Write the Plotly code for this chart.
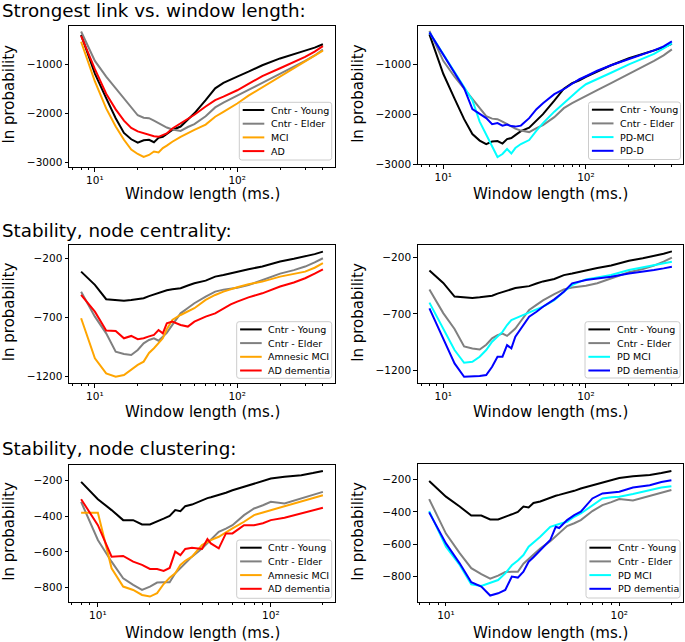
import plotly.graph_objects as go

# ---------------- data ----------------
# window lengths (ms.)
win_top = [8, 10, 12, 14, 16, 18, 20, 22, 24, 26, 28, 30, 32, 35, 40, 45, 50, 60, 70, 80, 90, 100, 120, 150, 200, 250, 300, 350, 400]
win_bot = [8, 10, 12, 14, 16, 18, 20, 22, 24, 26, 28, 30, 32, 35, 40, 43, 45, 50, 55, 60, 70, 80, 90, 100, 120, 150, 175, 200]

# Strongest link
link_young = [-400, -1190, -1690, -2100, -2400, -2530, -2600, -2550, -2540, -2590, -2500, -2480, -2420, -2340, -2270, -2130, -2000, -1730, -1490, -1380, -1320, -1250, -1150, -1020, -880, -800, -720, -660, -590]
link_elder = [-330, -930, -1250, -1490, -1690, -1870, -2040, -2090, -2100, -2150, -2200, -2240, -2290, -2330, -2360, -2280, -2220, -2060, -1880, -1780, -1700, -1640, -1520, -1380, -1200, -1050, -930, -820, -700]
link_mci = [-540, -1350, -1900, -2270, -2540, -2740, -2830, -2890, -2850, -2780, -2800, -2710, -2660, -2580, -2480, -2400, -2340, -2230, -2070, -1970, -1880, -1800, -1640, -1470, -1260, -1090, -950, -830, -720]
link_ad = [-420, -1100, -1600, -1920, -2150, -2300, -2370, -2410, -2450, -2470, -2480, -2440, -2410, -2310, -2200, -2110, -2030, -1860, -1730, -1660, -1590, -1530, -1400, -1240, -1080, -960, -850, -740, -630]
link_pdmci = [-360, -800, -1160, -1460, -1720, -2150, -2420, -2650, -2860, -2800, -2700, -2790, -2680, -2600, -2520, -2330, -2180, -1950, -1780, -1620, -1500, -1400, -1300, -1170, -1000, -880, -790, -680, -580]
link_pdd = [-360, -800, -1160, -1480, -1900, -2000, -2080, -2200, -2180, -2230, -2210, -2240, -2250, -2230, -2080, -1900, -1780, -1600, -1500, -1390, -1300, -1240, -1130, -1020, -900, -800, -720, -640, -540]

# Stability, node centrality
cent_young = [-313, -425, -546, -552, -558, -552, -546, -538, -520, -505, -495, -482, -470, -462, -453, -430, -411, -389, -355, -341, -325, -313, -292, -270, -228, -205, -186, -165, -144]
cent_elder = [-482, -693, -834, -989, -1008, -1017, -975, -918, -890, -876, -896, -862, -830, -763, -665, -620, -580, -524, -482, -465, -455, -450, -427, -383, -330, -300, -270, -235, -200]
cent_mci = [-707, -1045, -1172, -1200, -1186, -1138, -1101, -1073, -1000, -960, -918, -876, -800, -721, -679, -650, -622, -552, -510, -482, -462, -445, -420, -397, -355, -335, -313, -280, -242]
cent_ad = [-510, -651, -811, -814, -876, -856, -884, -876, -860, -848, -806, -834, -749, -735, -763, -777, -735, -693, -665, -622, -590, -566, -530, -496, -439, -405, -369, -330, -293]
cent_pdmci = [-600, -829, -1022, -1135, -1126, -1081, -1022, -948, -900, -860, -799, -755, -740, -719, -681, -660, -636, -577, -503, -443, -415, -393, -375, -354, -310, -285, -265, -250, -236]
cent_pdd = [-651, -918, -1141, -1259, -1259, -1253, -1244, -1170, -1081, -1081, -978, -1007, -903, -829, -725, -681, -636, -571, -503, -428, -410, -399, -385, -369, -340, -325, -310, -295, -280]

# Stability, node clustering
clus_young = [-209, -306, -367, -423, -423, -447, -447, -432, -415, -400, -367, -373, -345, -336, -311, -300, -295, -284, -270, -256, -237, -219, -205, -191, -180, -172, -160, -148]
clus_elder = [-321, -534, -655, -748, -785, -813, -794, -772, -770, -770, -720, -692, -660, -627, -581, -550, -534, -488, -470, -451, -395, -358, -340, -321, -330, -302, -285, -265]
clus_mci = [-382, -382, -692, -794, -813, -841, -850, -831, -780, -745, -720, -673, -650, -627, -562, -545, -535, -516, -490, -469, -432, -395, -380, -367, -345, -321, -300, -284]
clus_ad = [-306, -451, -627, -623, -655, -673, -696, -696, -707, -690, -599, -618, -584, -577, -584, -529, -553, -581, -497, -497, -451, -451, -440, -423, -410, -386, -370, -354]
clus_pdmci = [-395, -615, -728, -847, -858, -841, -821, -780, -730, -700, -667, -615, -590, -554, -492, -480, -475, -461, -430, -410, -358, -317, -310, -307, -290, -266, -250, -241]
clus_pdd = [-403, -595, -718, -835, -862, -917, -903, -882, -800, -806, -769, -708, -680, -636, -574, -492, -500, -451, -420, -399, -317, -286, -280, -276, -250, -235, -215, -204]

section_titles = ["Strongest link vs. window length:", "Stability, node centrality:", "Stability, node clustering:"]
x_title = "Window length (ms.)"
y_title = "ln probability"
yticks_top = [-1000, -2000, -3000]
yticks_mid = [-200, -700, -1200]
yticks_bot = [-200, -400, -600, -800]
xtick_vals = [10, 100]
xtick_text = ["10\u00b9", "10\u00b2"]

# ---------------- figure ----------------
W, H = 685, 642
FONT = "DejaVu Sans"
C_YOUNG, C_ELDER, C_ORANGE, C_RED, C_CYAN, C_BLUE = "#000000", "#808080", "#FFA500", "#FF0000", "#00FFFF", "#0000FF"


def py(p):
    return 1 - p / H


def px(p):
    return p / W


# panel geometry in pixels: axes box (left, right, top, bottom), legend box, x-title centre y
panels = [
    dict(box=(69, 335, 26, 167), xr=(0.818, 2.687), yr=(-3096, -218), yt=yticks_top,
         leg=(239.3, 331.7, 102.3, 160), xt_y=194.3,
         series=[("Cntr - Young", win_top, link_young, C_YOUNG), ("Cntr - Elder", win_top, link_elder, C_ELDER),
                 ("MCI", win_top, link_mci, C_ORANGE), ("AD", win_top, link_ad, C_RED)]),
    dict(box=(417.7, 683, 26, 164.3), xr=(0.821, 2.68), yr=(-3006, -232), yt=yticks_top,
         leg=(588.5, 680.5, 102, 159.5), xt_y=194.3,
         series=[("Cntr - Young", win_top, link_young, C_YOUNG), ("Cntr - Elder", win_top, link_elder, C_ELDER),
                 ("PD-MCI", win_top, link_pdmci, C_CYAN), ("PD-D", win_top, link_pdd, C_BLUE)]),
    dict(box=(69, 335, 245, 383.3), xr=(0.818, 2.687), yr=(-1256, -88), yt=yticks_mid,
         leg=(236.7, 331.7, 321.7, 378.3), xt_y=412,
         series=[("Cntr - Young", win_top, cent_young, C_YOUNG), ("Cntr - Elder", win_top, cent_elder, C_ELDER),
                 ("Amnesic MCI", win_top, cent_mci, C_ORANGE), ("AD dementia", win_top, cent_ad, C_RED)]),
    dict(box=(417.7, 683, 245, 383), xr=(0.821, 2.68), yr=(-1315, -87), yt=yticks_mid,
         leg=(585, 680, 321.7, 378), xt_y=412,
         series=[("Cntr - Young", win_top, cent_young, C_YOUNG), ("Cntr - Elder", win_top, cent_elder, C_ELDER),
                 ("PD MCI", win_top, cent_pdmci, C_CYAN), ("PD dementia", win_top, cent_pdd, C_BLUE)]),
    dict(box=(69, 335, 465, 602.3), xr=(0.833, 2.371), yr=(-882, -115), yt=yticks_bot,
         leg=(236.7, 331.7, 540, 598.3), xt_y=632.5,
         series=[("Cntr - Young", win_bot, clus_young, C_YOUNG), ("Cntr - Elder", win_bot, clus_elder, C_ELDER),
                 ("Amnesic MCI", win_bot, clus_mci, C_ORANGE), ("AD dementia", win_bot, clus_ad, C_RED)]),
    dict(box=(417.7, 683, 464.3, 601.7), xr=(0.837, 2.368), yr=(-955, -106), yt=yticks_bot,
         leg=(586, 680, 540, 598), xt_y=632.5,
         series=[("Cntr - Young", win_bot, clus_young, C_YOUNG), ("Cntr - Elder", win_bot, clus_elder, C_ELDER),
                 ("PD MCI", win_bot, clus_pdmci, C_CYAN), ("PD dementia", win_bot, clus_pdd, C_BLUE)]),
]

minor_x = [6, 7, 8, 9, 20, 30, 40, 50, 60, 70, 80, 90, 200, 300, 400]

fig = go.Figure()
layout = dict(width=W, height=H, margin=dict(l=0, r=0, t=0, b=0, autoexpand=False),
              paper_bgcolor="white", plot_bgcolor="white",
              font=dict(family=FONT, color="black", size=10.5), showlegend=False)

shapes = []
annotations = []


def rounded_rect(l, r, t, b, rad=2.5):
    # path in paper coordinates with small rounded corners
    rx, ry = rad / W, rad / H
    L, R, T, B = px(l), px(r), py(t), py(b)
    return (f"M {L + rx},{T} L {R - rx},{T} Q {R},{T} {R},{T - ry} L {R},{B + ry} Q {R},{B} {R - rx},{B} "
            f"L {L + rx},{B} Q {L},{B} {L},{B + ry} L {L},{T - ry} Q {L},{T} {L + rx},{T} Z")


for i, p in enumerate(panels):
    n = i + 1
    sfx = "" if n == 1 else str(n)
    l, r, t, b = p["box"]
    for name, xs, ys, col in p["series"]:
        fig.add_trace(go.Scatter(x=xs, y=ys, mode="lines", name=name,
                                 line=dict(color=col, width=2),
                                 xaxis="x" + sfx, yaxis="y" + sfx, showlegend=False))
    axis_common = dict(showline=True, mirror=True, linecolor="black", linewidth=1,
                       showgrid=False, zeroline=False, ticks="outside", ticklen=3.5,
                       tickwidth=1, tickcolor="black", automargin=False,
                       tickfont=dict(size=10.5, family=FONT))
    layout["xaxis" + sfx] = dict(axis_common, domain=[px(l), px(r)], anchor="y" + sfx, type="log",
                                 range=list(p["xr"]), tickvals=xtick_vals, ticktext=xtick_text,
                                 minor=dict(tickvals=minor_x, ticks="outside", ticklen=2,
                                            tickcolor="black", tickwidth=0.8))
    layout["yaxis" + sfx] = dict(axis_common, domain=[py(b), py(t)], anchor="x" + sfx,
                                 range=list(p["yr"]), tickvals=p["yt"],
                                 ticktext=[("\u2212" + str(abs(v))) if v < 0 else str(v) for v in p["yt"]])

    # axis titles
    annotations.append(dict(text=x_title, x=px((l + r) / 2), y=py(p["xt_y"]), xref="paper", yref="paper",
                            xanchor="center", yanchor="middle", showarrow=False,
                            font=dict(size=15, family=FONT, color="black")))
    annotations.append(dict(text=y_title, x=px(l - 60), y=py((t + b) / 2 - 2), xref="paper", yref="paper",
                            xanchor="center", yanchor="middle", showarrow=False, textangle=-90,
                            font=dict(size=15, family=FONT, color="black")))

    # legend (drawn to match the compact legend box of the reference)
    ll, lr, lt, lb = p["leg"]
    shapes.append(dict(type="path", path=rounded_rect(ll, lr, lt, lb), xref="paper", yref="paper",
                       line=dict(color="#cccccc", width=1), fillcolor="rgba(255,255,255,0.8)", layer="above"))
    for k, (name, xs, ys, col) in enumerate(p["series"]):
        ey = lt + 7.7 + 13.7 * k
        shapes.append(dict(type="line", x0=px(ll + 3.4), x1=px(ll + 25), y0=py(ey), y1=py(ey),
                           xref="paper", yref="paper", line=dict(color=col, width=2), layer="above"))
        annotations.append(dict(text=name, x=px(ll + 29.5), y=py(ey), xref="paper", yref="paper",
                                xanchor="left", yanchor="middle", showarrow=False,
                                font=dict(size=9.5, family=FONT, color="black")))

for txt, yc in zip(section_titles, [10.5, 230.5, 448.5]):
    annotations.append(dict(text=txt, x=0, y=py(yc), xref="paper", yref="paper",
                            xanchor="left", yanchor="middle", showarrow=False,
                            font=dict(size=18.3, family=FONT, color="black")))

layout["annotations"] = annotations
layout["shapes"] = shapes
fig.update_layout(**layout)
fig.write_html("out.html", config={"displayModeBar": False},
               post_script="document.body.style.margin='0';document.body.style.overflow='hidden';")
